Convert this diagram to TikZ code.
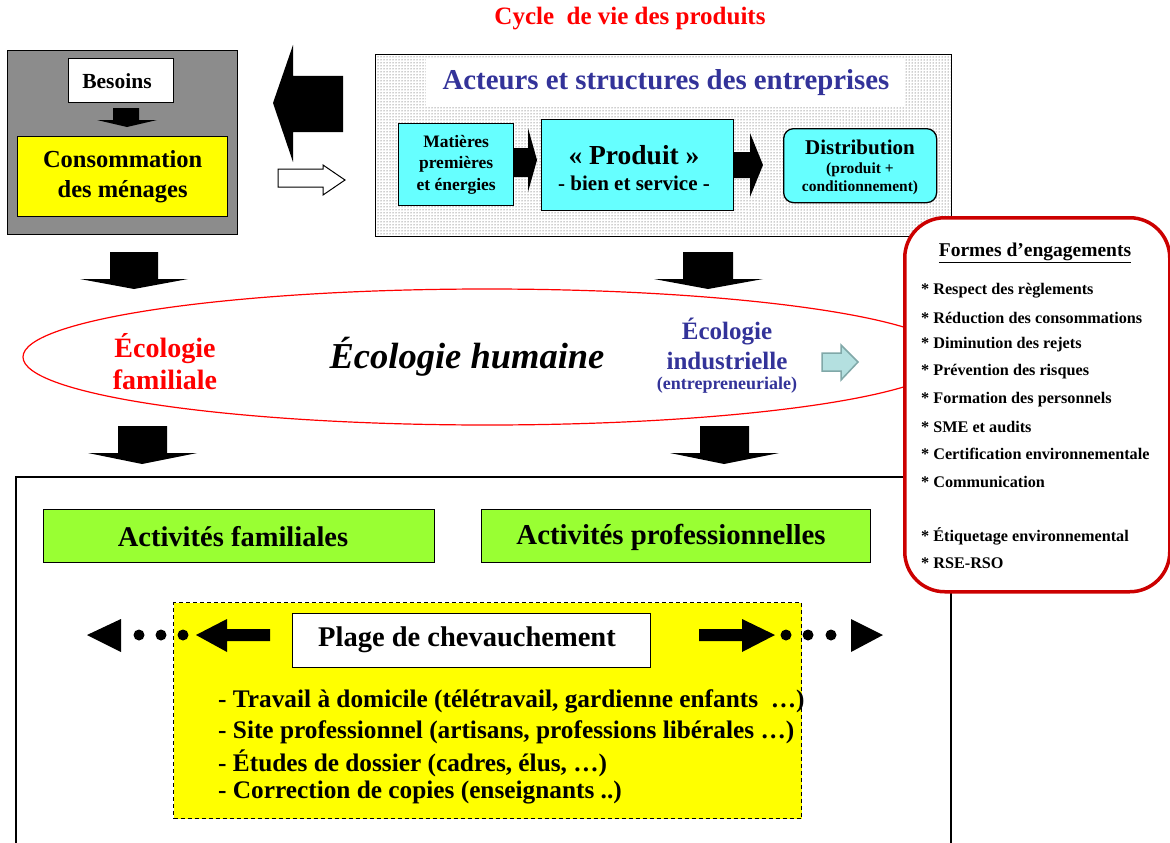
\documentclass[tikz,border=0pt]{standalone}
\usepackage{fontspec}
\setmainfont{Liberation Serif}
\usetikzlibrary{patterns}
\definecolor{redT}{HTML}{FF0000}
\definecolor{blueT}{HTML}{333399}
\definecolor{cyanB}{HTML}{66FFFF}
\definecolor{greenB}{HTML}{99FF33}
\definecolor{yellowB}{HTML}{FFFF00}
\definecolor{redFrame}{HTML}{CC0000}
\definecolor{lightArrow}{HTML}{B4E0E0}
\definecolor{lightArrowBorder}{HTML}{80A8A8}
\newcommand\fsz[2]{\fontsize{#1}{#2}\selectfont}
\tikzset{
  box/.style={draw=black, line width=1.3pt, inner sep=0pt, anchor=north west},
  blockarrow/.style={fill=black},
  txt/.style={font=\bfseries, align=center, inner sep=0pt},
  item/.style={font=\bfseries\fsz{16.2}{18}, anchor=west, inner sep=0pt},
  bullet/.style={font=\bfseries\fsz{25.3}{28}, anchor=west, inner sep=0pt},
}
\begin{document}
\begin{tikzpicture}[x=1pt,y=-1pt]
\useasboundingbox (0,0) rectangle (1170,843);
\fill[white] (0,0) rectangle (1170,843);

% title
\node[txt, text=redT, font=\bfseries\fsz{25}{28}] (title) at (630,19) {Cycle\ \ de vie des produits};

% left box
\node[box, fill=black!45, minimum width=230, minimum height=184] (leftbox) at (7,50) {};
\node[box, fill=white, minimum width=105, minimum height=44] (besoins) at (68,58) {};
\node[txt, font=\bfseries\fsz{21.5}{24}] (besoinsT) at (117,81) {Besoins};
\fill[blockarrow] (113,108) -- (139,108) -- (139,120) -- (157,120) -- (127,127) -- (97,120) -- (113,120) -- cycle;
\node[box, fill=yellowB, minimum width=210, minimum height=80, align=center, font=\bfseries\fsz{24.5}{30}] (conso) at (17,136) {Consommation\\des ménages};

% big arrows between
\fill[blockarrow] (273,103) -- (293,45) -- (293,76) -- (343,76) -- (343,132) -- (293,132) -- (293,162) -- cycle;
\filldraw[fill=white, draw=black, line width=1pt] (278,169) -- (323,169) -- (323,165) -- (345,180) -- (323,195) -- (323,187) -- (278,187) -- cycle;

% right box
\node[box, pattern=dots, pattern color=black!80, minimum width=576, minimum height=182] (rightbox) at (375,54) {};
\fill[white] (426,59) rectangle (904,106);
\node[txt, text=blueT, font=\bfseries\fsz{28.8}{30}] (acteurs) at (666,83) {Acteurs et structures des entreprises};
\node[box, fill=cyanB, minimum width=115, minimum height=82, align=center, font=\bfseries\fsz{17.5}{21.5}] (matieres) at (398,123) {Matières\\premières\\et énergies};
\node[box, fill=cyanB, minimum width=192, minimum height=91] (produit) at (541,119) {};
\node[txt, font=\bfseries\fsz{27.5}{30}] (produitT) at (634,155) {« Produit »};
\node[txt, font=\bfseries\fsz{21}{24}] (bien) at (634,183) {- bien et service -};
\node[box, fill=cyanB, rounded corners=10, minimum width=153, minimum height=74] (distrib) at (783,128) {};
\node[txt, font=\bfseries\fsz{21}{24}] (distribT) at (860,147) {Distribution};
\node[txt, font=\bfseries\fsz{15.5}{18}, align=center] (condT) at (860,179) {(produit +\\conditionnement)};
\fill[blockarrow] (513,148) -- (528,148) -- (528,128) -- (537,160) -- (528,192) -- (528,177) -- (513,177) -- cycle;
\fill[blockarrow] (733,152) -- (750,152) -- (750,133) -- (763,165) -- (750,197) -- (750,178) -- (733,178) -- cycle;

% down arrows top
\fill[blockarrow] (110,252) -- (158,252) -- (158,279) -- (188,279) -- (134,289) -- (80,279) -- (110,279) -- cycle;
\fill[blockarrow] (683,252) -- (733,252) -- (733,279) -- (763,279) -- (708,289) -- (654,279) -- (683,279) -- cycle;

% ellipse
\draw[redT, line width=1.2pt] (487,357) ellipse [x radius=464, y radius=68];
\node[txt, text=redT, font=\bfseries\fsz{28}{32}] (ecofam) at (165,362) {Écologie\\familiale};
\node[txt, font=\bfseries\itshape\fsz{36.5}{38}] (ecohum) at (467,357) {Écologie humaine};
\node[txt, text=blueT, font=\bfseries\fsz{25}{30}] (ecoind) at (727,344) {Écologie\\industrielle};
\node[txt, text=blueT, font=\bfseries\fsz{18}{20}] (entre) at (727,385) {(entrepreneuriale)};
\filldraw[fill=lightArrow, draw=lightArrowBorder, line width=1.5pt] (822,353) -- (841,353) -- (841,345) -- (858,362) -- (841,380) -- (841,371) -- (822,371) -- cycle;

% down arrows bottom
\fill[blockarrow] (118,426) -- (167,426) -- (167,453) -- (197,453) -- (142,464) -- (88,453) -- (118,453) -- cycle;
\fill[blockarrow] (700,426) -- (749,426) -- (749,453) -- (779,453) -- (724,464) -- (670,453) -- (700,453) -- cycle;

% bottom frame
\draw[line width=1.3pt] (16,850) -- (16,477) -- (951,477) -- (951,850);
\node[box, fill=greenB, minimum width=391, minimum height=53] (actfam) at (43,509) {};
\node[txt, font=\bfseries\fsz{28.5}{30}] (actfamT) at (233,537) {Activités familiales};
\node[box, fill=greenB, minimum width=389, minimum height=53] (actpro) at (481,509) {};
\node[txt, font=\bfseries\fsz{28.8}{30}] (actproT) at (671,537) {Activités professionnelles};

\node[box, fill=yellowB, dash pattern=on 4pt off 3pt, minimum width=628, minimum height=216] (plagebg) at (173,602) {};
\node[box, fill=white, minimum width=358, minimum height=54] (plage) at (292,613) {};
\node[txt, font=\bfseries\fsz{28.5}{30}] (plageT) at (467,640) {Plage de chevauchement};

% left arrows
\fill[blockarrow] (87,635) -- (121,619) -- (121,652) -- cycle;
\foreach \xx in {139,161,183} \fill (\xx,635) circle [radius=5.5];
\fill[blockarrow] (196,635) -- (227,619) -- (227,629) -- (270,629) -- (270,641) -- (227,641) -- (227,652) -- cycle;
% right arrows
\fill[blockarrow] (699,629) -- (742,629) -- (742,619) -- (775,635) -- (742,652) -- (742,641) -- (699,641) -- cycle;
\foreach \xx in {786,808,831} \fill (\xx,635) circle [radius=5.5];
\fill[blockarrow] (883,635) -- (851,619) -- (851,652) -- cycle;

\node[bullet] (b1) at (218,701) {- Travail à domicile (télétravail, gardienne enfants\ \ …)};
\node[bullet] (b2) at (218,732) {- Site professionnel (artisans, professions libérales …)};
\node[bullet] (b3) at (218,763) {- Études de dossier (cadres, élus, …)};
\node[bullet] (b4) at (218,793) {- Correction de copies (enseignants ..)};

% formes d'engagement
\node[box, draw=redFrame, line width=3.5pt, rounded corners=40, fill=white, minimum width=265, minimum height=374] (formes) at (903,216) {};
\node[txt, font=\bfseries\fsz{19.5}{22}] (formesT) at (1035,253) {\underline{Formes d’engagements}};
\node[item] (f1) at (921,291) {* Respect des règlements};
\node[item] (f2) at (921,318) {* Réduction des consommations};
\node[item] (f3) at (921,345) {* Diminution des rejets};
\node[item] (f4) at (921,372) {* Prévention des risques};
\node[item] (f5) at (921,400) {* Formation des personnels};
\node[item] (f6) at (921,427) {* SME et audits};
\node[item] (f7) at (921,454) {* Certification environnementale};
\node[item] (f8) at (921,482) {* Communication};
\node[item] (f9) at (921,536) {* Étiquetage environnemental};
\node[item] (f10) at (921,563) {* RSE-RSO};
\end{tikzpicture}
\end{document}
